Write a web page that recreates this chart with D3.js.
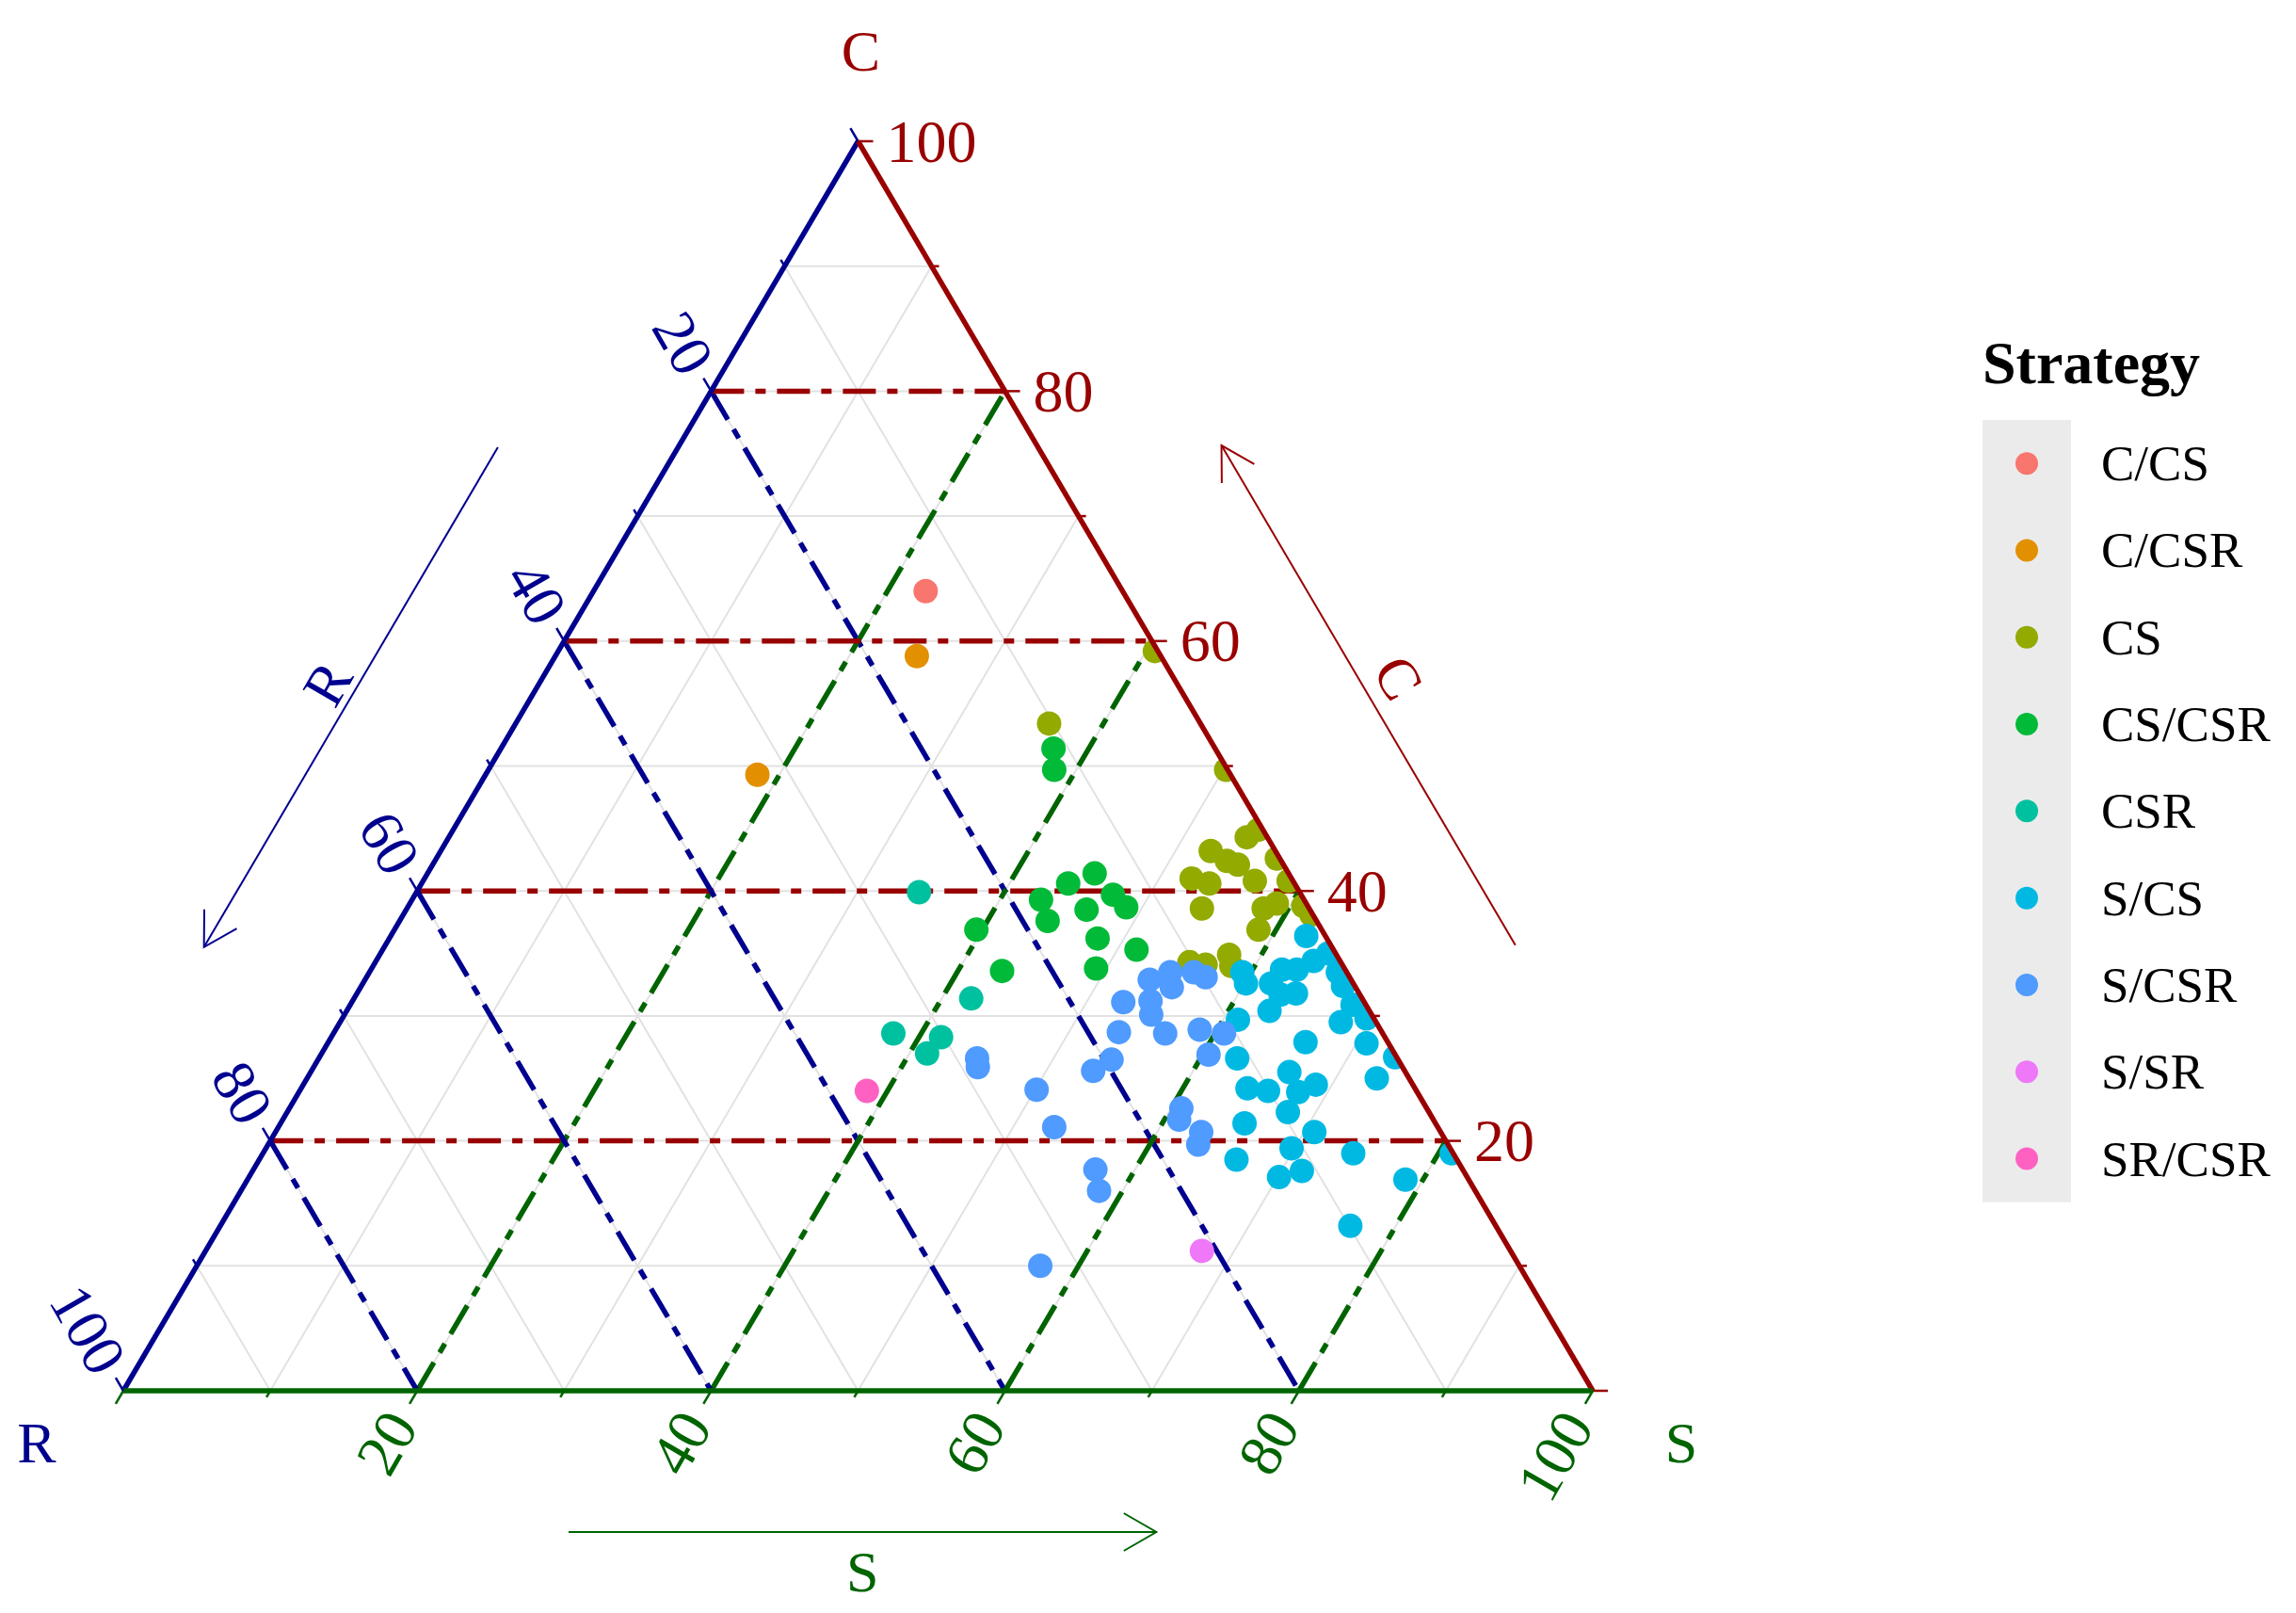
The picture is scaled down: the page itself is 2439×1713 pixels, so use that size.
<!DOCTYPE html>
<html><head><meta charset="utf-8">
<script src="https://cdn.jsdelivr.net/npm/d3@7"></script>
<style>body{margin:0;background:#fff}svg{display:block}</style>
</head><body>
<svg id="chart" width="2439" height="1713"></svg>
<script>
// ---------------- DATA ----------------
const strategies = ["C/CS","C/CSR","CS","CS/CSR","CSR","S/CS","S/CSR","S/SR","SR/CSR"];
const strategyColors = ["#F8766D","#E39000","#93AA00","#00BA38","#00C19F","#00B9E3","#4F9BFF","#EE78F8","#FF61C3"];
// each point: [C, S, R] in percent
const C_CS = [[64.0,22.6,13.4]];
const C_CSR = [[58.8,24.6,16.6],[49.3,18.5,32.2]];
const CS = [[59.2,40.6,0.2],[53.4,36.3,10.3],[49.7,50.2,0.1],[44.3,54.3,1.4],[44.9,54.8,0.3],
  [43.2,52.4,4.4],[42.4,53.9,3.7],[42.1,54.8,3.1],[40.8,56.6,2.6],[42.6,57.2,0.2],[41.0,52.2,6.8],
  [40.6,53.6,5.8],[38.6,54.1,7.3],[40.8,58.9,0.3],[38.6,58.3,3.1],[39.0,59.0,2.0],[38.8,60.9,0.3],
  [38.1,61.8,0.1],[36.9,58.8,4.3],[34.9,57.8,7.3],[34.3,55.4,10.3],[34.1,56.6,9.3],[34.0,58.4,7.6]];
const CS_CSR = [[51.4,37.6,11.0],[49.7,38.5,11.8],[40.6,44.0,15.4],[41.4,45.4,13.2],[39.3,42.8,17.9],
  [37.6,44.1,18.3],[38.5,46.3,15.2],[39.7,47.5,12.8],[38.7,48.9,12.4],[36.9,39.6,23.5],[36.2,48.2,15.6],
  [35.3,51.3,13.4],[33.8,49.3,16.9],[33.6,43.0,23.4]];
const CSR = [[39.9,34.2,25.9],[31.4,42.0,26.6],[28.6,38.1,33.3],[28.3,41.5,30.2],[27.0,41.2,31.8]];
const S_CS = [[36.4,62.3,1.3],[33.5,59.4,7.1],[32.6,61.8,5.6],[33.7,62.0,4.3],[33.7,63.0,3.3],
  [34.4,63.8,1.8],[35.0,64.5,0.5],[33.5,65.9,0.6],[31.8,63.9,4.3],[30.4,62.8,6.8],[29.7,61.0,9.3],
  [30.9,68.2,0.9],[29.5,68.1,2.4],[29.8,69.7,0.5],[27.9,66.5,5.6],[27.8,70.7,1.5],[26.7,73.2,0.1],
  [25.0,72.8,2.2],[26.6,62.5,10.9],[25.5,66.6,7.9],[24.5,68.9,6.6],[23.9,68.0,8.1],[22.3,68.1,9.6],
  [24.2,64.4,11.4],[24.0,65.9,10.1],[21.4,65.6,13.0],[20.7,70.7,8.6],[19.4,69.8,10.8],[19.0,74.2,6.8],
  [18.5,66.5,15.0],[17.1,70.1,12.8],[17.6,71.4,11.0],[16.9,78.8,4.3],[19.0,80.9,0.1],[13.2,76.9,9.9],
  [32.6,60.1,7.3],[32.4,66.8,0.8],[31.7,62.9,5.4]];
const S_CSR = [[32.9,53.4,13.7],[33.5,54.5,12.0],[32.3,55.2,12.5],[33.5,56.1,10.4],[33.1,57.1,9.8],
  [31.1,52.5,16.4],[31.2,54.3,14.5],[30.1,54.9,15.0],[28.6,56.6,14.8],[28.7,53.4,17.9],[26.5,54.0,19.5],
  [25.6,53.2,21.2],[24.1,50.1,25.8],[28.9,58.8,12.3],[28.6,60.6,10.8],[26.9,60.4,12.7],[22.6,60.7,16.7],
  [21.7,61.0,17.3],[20.7,63.0,16.3],[19.7,63.3,17.0],[21.1,52.8,26.1],[17.7,57.3,25.0],[16.0,58.4,25.6],
  [10.0,57.4,32.6],[26.6,44.8,28.6],[25.9,45.2,28.9]];
const S_SR = [[11.2,67.8,21.0]];
const SR_CSR = [[24.0,38.6,37.4]];
const seriesData = [C_CS, C_CSR, CS, CS_CSR, CSR, S_CS, S_CSR, S_SR, SR_CSR];

const tickValues = [0,10,20,30,40,50,60,70,80,90,100];
const tickLabels = [20,40,60,80,100];
const refValues = [20,40,60,80];
const gridValues = [10,20,30,40,50,60,70,80,90];

// ---------------- STYLE / LAYOUT ----------------
const colC = "#990000", colR = "#00008F", colS = "#006400";
const FONT = "'Liberation Serif','Times New Roman',serif";
const W = 2439, H = 1713;

const xScale = d3.scaleLinear().domain([0,100]).range([131,1692]);
const yScale = d3.scaleLinear().domain([0,100]).range([1477,150]);
function proj(c,s,r){ const t=c+s+r; c=c/t*100; s=s/t*100; return [xScale(s + c/2), yScale(c)]; }

const TOP = proj(100,0,0), LEFT = proj(0,0,100), RIGHT = proj(0,100,0);
const centroid = [(TOP[0]+LEFT[0]+RIGHT[0])/3,(TOP[1]+LEFT[1]+RIGHT[1])/3];
function unit(a,b){ const dx=b[0]-a[0], dy=b[1]-a[1], l=Math.hypot(dx,dy); return [dx/l, dy/l]; }
function outward(a,b){ const u=unit(a,b); let n=[u[1],-u[0]]; const m=[(a[0]+b[0])/2,(a[1]+b[1])/2];
  if ((centroid[0]-m[0])*n[0]+(centroid[1]-m[1])*n[1] > 0) n=[-n[0],-n[1]]; return n; }

const svg = d3.select("#chart");
svg.append("rect").attr("width",W).attr("height",H).attr("fill","#fff");
const line = d3.line();

const lineC = k => [proj(k,0,100-k), proj(k,100-k,0)];
const lineR = k => [proj(100-k,0,k), proj(0,100-k,k)];
const lineS = k => [proj(0,k,100-k), proj(100-k,k,0)];

// grid
const gGrid = svg.append("g").attr("fill","none").attr("stroke","#E2E2E2").attr("stroke-width",2);
gridValues.forEach(k=>{
  [lineC(k), lineR(k), lineS(k)].forEach(l=> gGrid.append("path").attr("d", line(l)));
});

// reference dash-dot lines
const dash = "35,12,11,12";
const gRef = svg.append("g").attr("fill","none").attr("stroke-width",5.5).attr("stroke-dasharray",dash);
refValues.forEach(k=>{
  gRef.append("path").attr("d", line(lineC(k))).attr("stroke", colC);
  gRef.append("path").attr("d", line(lineR(k))).attr("stroke", colR);
  gRef.append("path").attr("d", line(lineS(k))).attr("stroke", colS);
});

// points clipped to triangle
svg.append("clipPath").attr("id","tri").append("path").attr("d", line([TOP,LEFT,RIGHT])+"Z");
const gPts = svg.append("g").attr("clip-path","url(#tri)");
seriesData.forEach((arr,i)=>{
  gPts.selectAll(null).data(arr).enter().append("circle")
    .attr("cx", d=>proj(d[0],d[1],d[2])[0]).attr("cy", d=>proj(d[0],d[1],d[2])[1])
    .attr("r", 13).attr("fill", strategyColors[i]);
});

// edges
const gEdge = svg.append("g").attr("fill","none").attr("stroke-width",5.5);
gEdge.append("path").attr("d", line([TOP,LEFT])).attr("stroke", colR);
gEdge.append("path").attr("d", line([TOP,RIGHT])).attr("stroke", colC);
gEdge.append("path").attr("d", line([LEFT,RIGHT])).attr("stroke", colS);

// ticks
const dirC = [1,0], dirR = unit(RIGHT,TOP), dirS = unit(TOP,LEFT);
const gTick = svg.append("g").attr("stroke-width",2.5);
tickValues.forEach(k=>{
  const len = k%20===0 ? 16 : 8;
  const pC = proj(k,100-k,0), pR = proj(100-k,0,k), pS = proj(0,k,100-k);
  gTick.append("line").attr("x1",pC[0]).attr("y1",pC[1]).attr("x2",pC[0]+dirC[0]*len).attr("y2",pC[1]+dirC[1]*len).attr("stroke",colC);
  gTick.append("line").attr("x1",pR[0]).attr("y1",pR[1]).attr("x2",pR[0]+dirR[0]*len).attr("y2",pR[1]+dirR[1]*len).attr("stroke",colR);
  gTick.append("line").attr("x1",pS[0]).attr("y1",pS[1]).attr("x2",pS[0]+dirS[0]*len).attr("y2",pS[1]+dirS[1]*len).attr("stroke",colS);
});

// tick labels
const gLab = svg.append("g").attr("font-family",FONT).attr("font-size",64);
tickLabels.forEach(k=>{
  const pC = proj(k,100-k,0);
  gLab.append("text").attr("x",pC[0]+30).attr("y",pC[1]).attr("dominant-baseline","central")
    .attr("fill",colC).text(k);
  const pR = proj(100-k,0,k), aR=[pR[0]+dirR[0]*27, pR[1]+dirR[1]*27];
  gLab.append("text").attr("transform",`translate(${aR[0]},${aR[1]}) rotate(60)`)
    .attr("text-anchor","end").attr("dominant-baseline","central").attr("fill",colR).text(k);
  const pS = proj(0,k,100-k), aS=[pS[0]+dirS[0]*32, pS[1]+dirS[1]*32];
  gLab.append("text").attr("transform",`translate(${aS[0]},${aS[1]}) rotate(-60)`)
    .attr("text-anchor","end").attr("dominant-baseline","central").attr("fill",colS).text(k);
});

// vertex titles
const gTitle = svg.append("g").attr("font-family",FONT).attr("font-size",62)
  .attr("text-anchor","middle").attr("dominant-baseline","central");
gTitle.append("text").attr("x",TOP[0]+3).attr("y",TOP[1]-96).attr("fill",colC).text("C");
gTitle.append("text").attr("x",LEFT[0]-92).attr("y",LEFT[1]+55).attr("fill",colR).text("R");
gTitle.append("text").attr("x",RIGHT[0]+94).attr("y",RIGHT[1]+55).attr("fill",colS).text("S");

// arrows
function arrow(a, b, off, col, label, labOff, rot){
  const n = outward(a,b);
  const p1 = [a[0]+n[0]*off, a[1]+n[1]*off], p2 = [b[0]+n[0]*off, b[1]+n[1]*off];
  const g = svg.append("g").attr("stroke",col).attr("stroke-width",2).attr("fill","none");
  g.append("path").attr("d", line([p1,p2]));
  const u = unit(p2,p1), ang = Math.atan2(u[1],u[0]), L = 40, h = Math.PI/6;
  g.append("path").attr("d", line([[p2[0]+L*Math.cos(ang+h), p2[1]+L*Math.sin(ang+h)], p2,
    [p2[0]+L*Math.cos(ang-h), p2[1]+L*Math.sin(ang-h)]]));
  const m = [(a[0]+b[0])/2 + n[0]*labOff, (a[1]+b[1])/2 + n[1]*labOff];
  svg.append("text").attr("transform",`translate(${m[0]},${m[1]}) rotate(${rot})`)
    .attr("font-family",FONT).attr("font-size",62).attr("text-anchor","middle")
    .attr("dominant-baseline","central").attr("fill",col).text(label);
}
const edgeC = [proj(29.2,70.8,0), proj(69.2,30.8,0)];
const edgeR = [proj(69.2,0,30.8), proj(29.2,0,70.8)];
const edgeS = [proj(0,30.3,69.7), proj(0,70.3,29.7)];
arrow(edgeC[0], edgeC[1], 169, colC, "C", 206, 60);
arrow(edgeR[0], edgeR[1], 165, colR, "R", 194, -60);
arrow(edgeS[0], edgeS[1], 150, colS, "S", 192, 0);

// legend
const lg = svg.append("g").attr("font-family",FONT);
lg.append("text").attr("x",2106).attr("y",407).attr("font-size",64).attr("font-weight","bold")
  .attr("fill","#000").text("Strategy");
const keyH = 92.3, keyTop = 446;
lg.append("rect").attr("x",2106).attr("y",keyTop).attr("width",94).attr("height",keyH*strategies.length)
  .attr("fill","#EBEBEB");
strategies.forEach((s,i)=>{
  const cy = keyTop + keyH*(i+0.5);
  lg.append("circle").attr("cx",2153).attr("cy",cy).attr("r",12).attr("fill",strategyColors[i]);
  lg.append("text").attr("x",2232).attr("y",cy).attr("dominant-baseline","central")
    .attr("font-size",53).attr("fill","#000").text(s);
});
</script>
</body></html>
